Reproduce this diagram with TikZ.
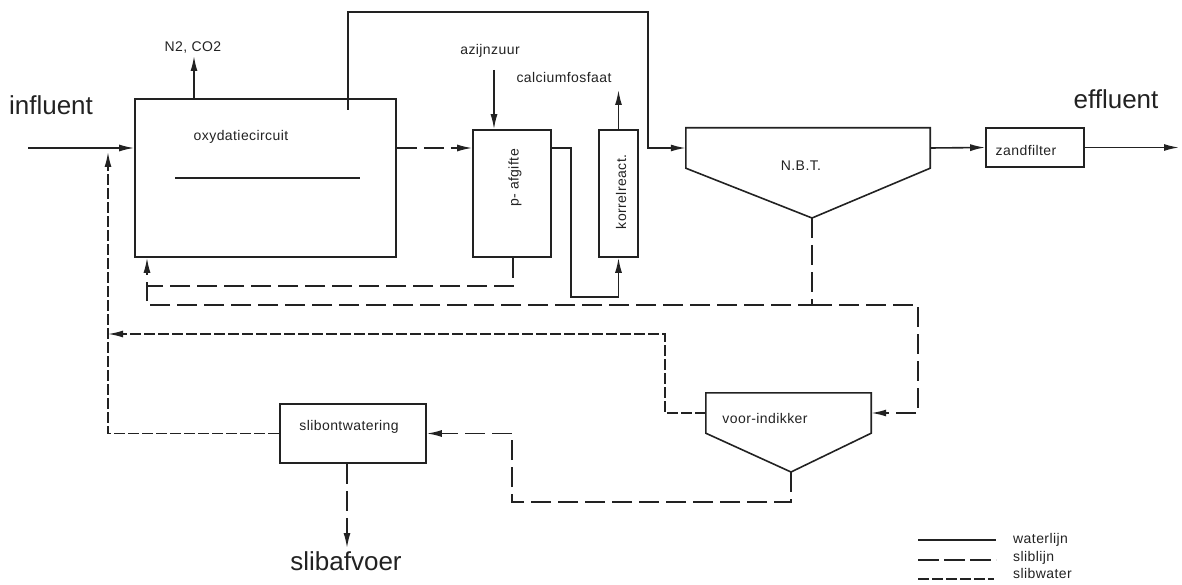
\documentclass[tikz,border=0pt]{standalone}
\usepackage{fontspec}
\setmainfont{Liberation Sans}
\newfontfamily\lblfont[LetterSpace=3]{Liberation Sans}
\usetikzlibrary{arrows.meta}
\definecolor{ink}{HTML}{222222}
\begin{document}
\begin{tikzpicture}[x=1pt,y=-1pt,
  water/.style={draw=ink, line width=1.6pt},
  slib/.style={water, dash pattern=on 20pt off 7pt},
  slibw/.style={water, dash pattern=on 11pt off 3pt},
  tip/.style={-{Latex[length=15pt,width=7pt]}},
  lbl/.style={font=\lblfont\fontsize{14}{16}\selectfont, text=ink, inner sep=0pt},
  big/.style={font=\fontsize{26}{30}\selectfont, text=ink, inner sep=0pt},
  box/.style={draw=ink, line width=1.6pt, inner sep=0pt},
  ghost/.style={inner sep=0pt}]
\useasboundingbox (0,0) rectangle (1182,585);

% ---------- units ----------
\node[box, minimum width=261pt, minimum height=158pt] (oxy) at (265.5,178) {};
\node[lbl, anchor=base] (oxyl) at (241,141) {oxydatiecircuit};
\coordinate (il1) at (175,178);
\coordinate (il2) at (360,178);
\draw[water] (il1) -- (il2);

\node[box, minimum width=78pt, minimum height=127pt] (paf) at (512,193.5) {};
\node[lbl, rotate=90] (pafl) at (515,178) {p- afgifte};

\node[box, minimum width=39pt, minimum height=127pt] (kor) at (618.5,193.5) {};
\node[lbl, rotate=90] (korl) at (621,192) {korrelreact.};

\node[ghost, minimum width=244pt, minimum height=40pt] (nbt) at (808,148) {};
\coordinate (nbtap) at (812,218);
\draw[water] (nbt.north west) -- (nbt.north east) -- (nbt.south east) -- (nbtap) -- (nbt.south west) -- cycle;
\node[lbl, anchor=base] (nbtl) at (801,171) {N.B.T.};

\node[box, minimum width=98pt, minimum height=39pt] (zand) at (1035,147.5) {};
\node[lbl, anchor=base] (zandl) at (1026,156) {zandfilter};

\node[ghost, minimum width=165pt, minimum height=40pt] (voor) at (788.5,413) {};
\coordinate (voorap) at (791,472);
\draw[water] (voor.north west) -- (voor.north east) -- (voor.south east) -- (voorap) -- (voor.south west) -- cycle;
\node[lbl, anchor=base] (voorl) at (765,423) {voor-indikker};

\node[box, minimum width=146pt, minimum height=59pt] (slo) at (353,433.5) {};
\node[lbl, anchor=base] (slol) at (349,430) {slibontwatering};

% ---------- free texts ----------
\node[big, anchor=base] (inf) at (51,115) {influent};
\node[big, anchor=base] (eff) at (1116,109) {effluent};
\node[big, anchor=base] (afv) at (346,570) {slibafvoer};
\node[lbl, anchor=base] (n2) at (193,52) {N2, CO2};
\node[lbl, anchor=base] (azi) at (490,55) {azijnzuur};
\node[lbl, anchor=base] (caf) at (564,83) {calciumfosfaat};

% ---------- connectors ----------
\coordinate (y148) at (0,148);
\coordinate (inS) at (28,148);
\draw[water,tip] (inS) -- (inS -| oxy.west);

\coordinate (n2t) at (194,56);
\draw[water,tip] (n2t |- oxy.north) -- (n2t);

\coordinate (tap) at (348,110);
\coordinate (tr) at (648,12);
\draw[water,tip] (tap) |- (tr) |- (nbt.west);

\draw[slib,tip] (oxy.east |- y148) -- (paf.west |- y148);

\coordinate (azs) at (494,70);
\draw[water,tip] (azs) -- (azs |- paf.north);

\coordinate (pk) at (571,297);
\draw[water,tip] (paf.east |- y148) -| (pk) -| (kor.south);

\coordinate (kt) at (618.5,90);
\draw[water,tip] (kor.north) -- (kt);

\coordinate (pb) at (513,286);
\coordinate (ox147) at (147,286);
\draw[slib,tip] (pb |- paf.south) -- (pb) -- (ox147) -- (ox147 |- oxy.south);

\coordinate (nb) at (812,305);
\coordinate (lb) at (147,305);
\coordinate (rb) at (918,305);
\draw[slib] (nbtap) -- (nb) -- (lb) -- (ox147);
\draw[slib,tip] (nb) -- (rb) |- (voor.east);

\coordinate (vl) at (665,334);
\coordinate (vx) at (108,334);
\draw[slibw,tip] (voor.west) -| (vl) -- (vx);
\coordinate (upt) at (108,152);
\draw[slibw,tip] (slo.west) -| (upt);

\coordinate (va) at (512,502);
\draw[slib,tip] (voorap) |- (va) |- (slo.east);

\coordinate (at) at (347,548);
\draw[slib,tip] (at |- slo.south) -- (at);

\draw[water,tip] (nbt.east) -- (zand.west);
\coordinate (out) at (1179,147.5);
\draw[water,tip] (zand.east) -- (out);

% ---------- legend ----------
\coordinate (l1a) at (918,540); \coordinate (l1b) at (996,540);
\coordinate (l2a) at (918,560); \coordinate (l2b) at (996,560);
\coordinate (l3a) at (918,579); \coordinate (l3b) at (994,579);
\draw[water] (l1a) -- (l1b);
\draw[water, dash pattern=on 21pt off 5pt] (l2a) -- (l2b);
\draw[slibw] (l3a) -- (l3b);
\node[lbl, anchor=base west] (lg1) at (1013,543) {waterlijn};
\node[lbl, anchor=base west] (lg2) at (1013,561) {sliblijn};
\node[lbl, anchor=base west] (lg3) at (1013,578) {slibwater};
\end{tikzpicture}
\end{document}
